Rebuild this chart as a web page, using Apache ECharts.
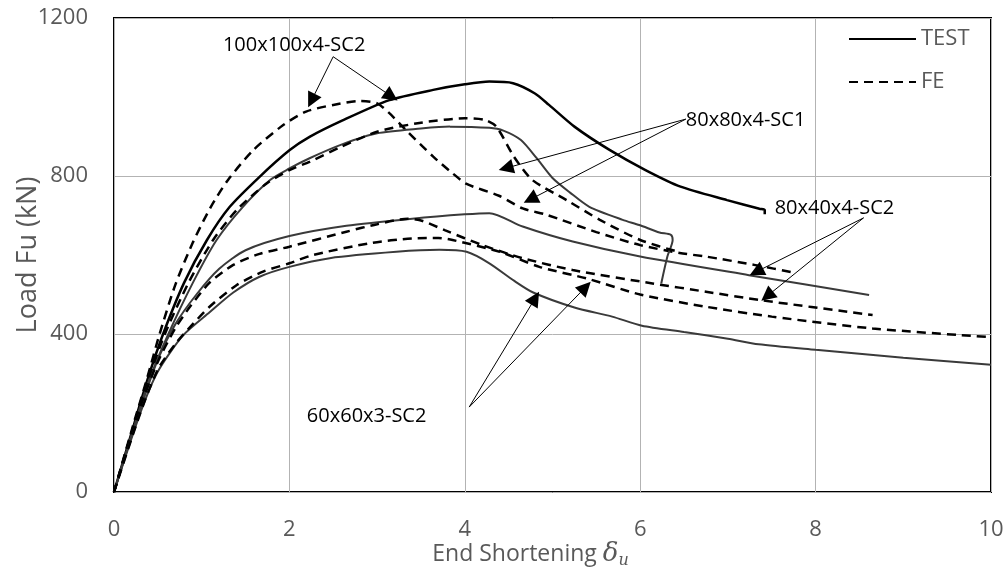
<!DOCTYPE html>
<html><head><meta charset="utf-8">
<script src="https://cdn.jsdelivr.net/npm/echarts@6/dist/echarts.min.js"></script>
<style>html,body{margin:0;padding:0;background:#fff}#c{width:1007px;height:571px}</style>
</head><body><div id="c"></div>
<script>
// Axis ticks
const xTicks = [0, 2, 4, 6, 8, 10];
const yTicks = [0, 400, 800, 1200];

// Series values [end shortening, load]
const test100 = [[0,0],[0.2,150],[0.38,283],[0.56,400],[0.8,530],[1.06,638],[1.32,722],[1.66,798],[2.0,865],[2.23,899],[2.6,940],[3.14,992],[3.64,1018],[4.0,1032],[4.28,1039],[4.55,1035],[4.8,1009],[4.96,980],[5.25,925],[5.65,866],[6.06,815],[6.46,773],[6.99,739],[7.36,717],[7.42,714],[7.42,703]];
const fe100 = [[0,0],[0.2,155],[0.38,290],[0.52,400],[0.7,525],[0.9,632],[1.1,720],[1.3,790],[1.59,866],[1.93,929],[2.19,963],[2.5,980],[2.8,990],[3.0,984],[3.14,959],[3.33,916],[3.64,849],[3.86,807],[4.02,780],[4.39,750],[4.66,718],[4.93,702],[5.5,658],[6.0,625],[6.45,605],[6.75,596],[7.3,575],[7.78,554]];
const test80 = [[0,0],[0.2,145],[0.4,283],[0.62,400],[0.9,530],[1.17,638],[1.47,722],[1.78,790],[2.0,819],[2.23,845],[2.6,880],[3.0,908],[3.5,920],[3.83,925],[4.28,922],[4.44,915],[4.64,891],[4.82,845],[5.0,795],[5.2,758],[5.42,722],[5.8,689],[5.99,676],[6.22,657],[6.35,651],[6.37,638],[6.31,596],[6.24,528]];
const fe80 = [[0,0],[0.2,150],[0.4,290],[0.58,400],[0.85,530],[1.13,638],[1.4,714],[1.74,781],[2.0,815],[2.23,836],[2.6,875],[3.0,912],[3.5,935],[4.0,946],[4.23,942],[4.36,925],[4.56,849],[4.77,790],[5.16,739],[5.54,689],[6.0,638],[6.45,607]];
const test8040 = [[0,0],[0.3,210],[0.5,335],[0.7,425],[0.94,500],[1.2,565],[1.5,612],[2.0,648],[2.65,674],[3.4,692],[4.0,703],[4.28,706],[4.66,672],[5.23,634],[6.0,596],[7.24,549],[8.61,499]];
const fe8040 = [[0,0],[0.3,215],[0.5,330],[0.7,415],[0.87,470],[1.09,530],[1.36,575],[1.66,603],[2.0,621],[2.65,659],[3.0,678],[3.35,692],[3.52,686],[3.77,663],[4.2,625],[4.66,592],[5.23,562],[6.14,528],[6.75,507],[7.36,486],[8.65,448]];
const test6060 = [[0,0],[0.3,200],[0.5,305],[0.79,397],[1.09,455],[1.36,505],[1.66,545],[2.0,570],[2.46,592],[3.22,608],[3.71,613],[4.02,608],[4.28,579],[4.56,535],[4.78,505],[5.25,467],[5.68,444],[6.02,421],[6.5,405],[7.0,388],[7.35,374],[8.0,360],[9.0,340],[10,322]];
const fe6060 = [[0,0],[0.3,200],[0.5,310],[0.7,375],[0.87,418],[1.09,469],[1.4,524],[1.7,558],[2.0,579],[2.27,600],[2.92,630],[3.4,642],[3.7,643],[3.86,638],[4.4,608],[4.85,570],[5.4,540],[6.0,500],[6.75,469],[7.5,444],[8.65,414],[10,392]];

// Annotations (data coordinates)
const annotationLabels = ['100x100x4-SC2', '80x80x4-SC1', '80x40x4-SC2', '60x60x3-SC2'];
const labelAnchors = [[1.242,1130],[6.52,942],[7.533,719],[2.199,192]];
const arrowStarts = [[2.499,1102],[2.499,1102],[6.52,944],[6.52,944],[8.547,694],[8.547,694],[4.05,215],[4.05,215]];
const arrowTips = [[2.214,974],[3.233,991],[4.387,815],[4.672,732],[7.248,549],[7.381,484],[4.847,507],[5.436,532]];

const FONT = 'Open Sans';
const chart = echarts.init(document.getElementById('c'), null, {renderer: 'canvas'});

function testSeries(data, color, width) {
  return {name: 'TEST', type: 'line', data: data, symbol: 'none', smooth: 0.25,
    lineStyle: {color: color, width: width, type: 'solid'}, itemStyle: {color: color},
    silent: true, animation: false, z: 3};
}
function feSeries(data) {
  return {name: 'FE', type: 'line', data: data, symbol: 'none', smooth: 0.25,
    lineStyle: {color: '#000', width: 2.5, type: [9, 6]}, itemStyle: {color: '#000'},
    silent: true, animation: false, z: 3};
}

function arrowData(ends) {
  return arrowStarts.map((s, i) => [{coord: s}, {coord: ends[i]}]);
}

const option = {
  animation: false,
  textStyle: {fontFamily: FONT},
  grid: {left: 114, right: 16, top: 18, bottom: 79, show: true, borderColor: '#000', borderWidth: 2,
    backgroundColor: 'transparent', containLabel: false, outerBoundsMode: 'none'},
  legend: {
    data: ['TEST', 'FE'], orient: 'vertical', left: 848, top: 28, padding: 0,
    itemWidth: 67, itemHeight: 14, itemGap: 21, selectedMode: false,
    itemStyle: {opacity: 0, color: 'transparent', borderWidth: 0},
    textStyle: {fontSize: 22, color: '#595959', fontFamily: FONT, lineHeight: 22}
  },
  xAxis: {
    type: 'value', min: xTicks[0], max: xTicks[xTicks.length-1], interval: xTicks[1]-xTicks[0],
    axisLine: {show: false}, axisTick: {show: false},
    splitLine: {show: true, lineStyle: {color: '#b3b3b3', width: 1}},
    axisLabel: {fontSize: 22, color: '#595959', margin: 27, fontFamily: FONT},
    name: '{a|End Shortening }{d|δ}{u|u}', nameLocation: 'middle', nameGap: 47, nameMoveOverlap: false,
    nameTextStyle: {color: '#595959', fontFamily: FONT, padding: [0, 44, 0, 0],
      rich: {
        a: {fontSize: 23, color: '#595959', fontFamily: FONT, lineHeight: 30},
        d: {fontSize: 26, color: '#595959', fontFamily: 'DejaVu Serif', fontStyle: 'italic', lineHeight: 30},
        u: {fontSize: 16, color: '#595959', fontFamily: 'DejaVu Serif', fontStyle: 'italic', verticalAlign: 'bottom', lineHeight: 30}
      }}
  },
  yAxis: {
    type: 'value', min: yTicks[0], max: yTicks[yTicks.length-1], interval: yTicks[1]-yTicks[0],
    axisLine: {show: false}, axisTick: {show: false},
    splitLine: {show: true, lineStyle: {color: '#b3b3b3', width: 1}},
    axisLabel: {fontSize: 22, color: '#595959', margin: 26, fontFamily: FONT, formatter: v => String(v)},
    name: 'Load Fu (kN)', nameLocation: 'middle', nameGap: 72, nameMoveOverlap: false,
    nameTextStyle: {fontSize: 27, color: '#595959', fontFamily: FONT}
  },
  series: [
    testSeries(test100, '#000', 2.5),
    feSeries(fe100),
    testSeries(test80, '#3a3a3a', 2),
    feSeries(fe80),
    testSeries(test8040, '#3a3a3a', 2),
    feSeries(fe8040),
    testSeries(test6060, '#3a3a3a', 2),
    feSeries(fe6060),
    {
      id: 'annot', name: 'annotations', type: 'line', data: [], symbol: 'none', silent: true, animation: false, z: 5,
      markLine: {
        silent: true, animation: false, symbol: ['none', 'triangle'], symbolSize: 15,
        lineStyle: {color: '#000', width: 1, type: 'solid'}, label: {show: false},
        emphasis: {disabled: true},
        data: arrowData(arrowTips)
      },
      markPoint: {
        silent: true, animation: false, symbol: 'circle', symbolSize: 0,
        itemStyle: {color: 'transparent'},
        label: {show: true, position: 'inside', align: 'left', verticalAlign: 'middle',
          fontSize: 20, color: '#000', fontFamily: FONT},
        data: annotationLabels.map((t, i) => ({coord: labelAnchors[i], value: t, label: {formatter: t}}))
      }
    }
  ]
};
chart.setOption(option);

// Pull each arrow end back so the head's tip (not its centre) lands on the target point.
const HEAD = 7.5;
const adjusted = arrowTips.map((t, i) => {
  const a = chart.convertToPixel({gridIndex: 0}, arrowStarts[i]);
  const b = chart.convertToPixel({gridIndex: 0}, t);
  const dx = b[0] - a[0], dy = b[1] - a[1];
  const len = Math.sqrt(dx * dx + dy * dy);
  const p = [b[0] - dx / len * HEAD, b[1] - dy / len * HEAD];
  return chart.convertFromPixel({gridIndex: 0}, p);
});
chart.setOption({series: [{id: 'annot', markLine: {data: arrowData(adjusted)}}]});
</script></body></html>
